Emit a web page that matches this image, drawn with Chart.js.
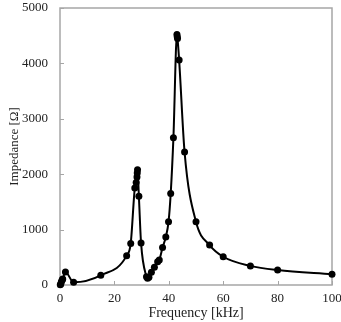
<!DOCTYPE html>
<html>
<head>
<meta charset="utf-8">
<script src="https://cdn.jsdelivr.net/npm/chart.js@4/dist/chart.umd.min.js"></script>
<style>
  html, body { margin: 0; padding: 0; background: #fff; }
  #wrap { width: 341px; height: 322px; position: relative; }
</style>
</head>
<body>
<div id="wrap"><canvas id="chart"></canvas></div>
<script>
// ── data ──
const freqKHz = [
  0.1, 0.3, 0.5, 0.8, 1.0, 2.0, 5.0, 15, 24.5, 26,
  27.5, 28.0, 28.3, 28.4, 28.5, 29.0, 29.8, 31.8, 32.2, 32.7,
  33.6, 34.7, 35.9, 36.5, 37.7, 38.9, 39.9, 40.7, 41.7, 43.0,
  43.1, 43.2, 43.8, 45.8, 50, 55, 60, 70, 80, 100,
];
const impedance = [
  5, 20, 60, 90, 110, 235, 50, 175, 530, 750,
  1750, 1850, 1950, 2020, 2080, 1600, 760, 150, 120, 140,
  230, 320, 420, 450, 675, 865, 1140, 1650, 2660, 4520,
  4480, 4450, 4060, 2400, 1140, 720, 510, 345, 270, 195,
];
const xTicks = [0, 20, 40, 60, 80, 100];
const yTicks = [0, 1000, 2000, 3000, 4000, 5000];

const FONT = "'Liberation Serif', 'Times New Roman', serif";
const FRAME = "#a6a6a6";

// frame + inward tick marks, like the spreadsheet original
const framePlugin = {
  id: "frame",
  beforeDatasetsDraw(chart) {
    const { ctx, chartArea: a, scales } = chart;
    ctx.save();
    ctx.strokeStyle = FRAME;
    ctx.lineWidth = 1.5;
    ctx.strokeRect(a.left, a.top, a.right - a.left, a.bottom - a.top);
    ctx.lineWidth = 1;
    ctx.beginPath();
    for (const v of xTicks) {
      const px = Math.round(scales.x.getPixelForValue(v)) + 0.5;
      ctx.moveTo(px, a.bottom);
      ctx.lineTo(px, a.bottom - 4);
    }
    for (const v of yTicks) {
      const py = Math.round(scales.y.getPixelForValue(v)) + 0.5;
      ctx.moveTo(a.left, py);
      ctx.lineTo(a.left + 4, py);
    }
    ctx.stroke();
    ctx.restore();
  },
};

// keep tick labels from pushing the plot area inwards
function noEdgePadding(s) {
  s.paddingTop = 0;
  s.paddingBottom = 0;
  s.paddingLeft = 0;
  s.paddingRight = 0;
}

new Chart(document.getElementById("chart"), {
  type: "line",
  data: {
    datasets: [{
      data: freqKHz.map((f, i) => ({ x: f, y: impedance[i] })),
      borderColor: "#000",
      backgroundColor: "#000",
      borderWidth: 2,
      pointRadius: 3.5,
      pointBorderWidth: 0,
      cubicInterpolationMode: "monotone",
      clip: false,
    }],
  },
  options: {
    responsive: true,
    maintainAspectRatio: false,
    animation: false,
    events: [],
    layout: { padding: { left: 0, right: 9, top: 8, bottom: 0 } },
    plugins: { legend: { display: false }, tooltip: { enabled: false } },
    scales: {
      x: {
        type: "linear",
        min: 0,
        max: 100,
        afterBuildTicks: (s) => { s.ticks = xTicks.map((v) => ({ value: v })); },
        afterFit: (s) => { s.height = 37; noEdgePadding(s); },
        grid: { display: false, drawTicks: false },
        border: { display: false },
        ticks: { padding: 6, color: "#222", font: { family: FONT, size: 13 }, callback: (v) => String(v) },
        title: {
          display: true,
          text: "Frequency [kHz]",
          color: "#222",
          padding: 0,
          font: { family: FONT, size: 14 },
        },
      },
      y: {
        min: 0,
        max: 5000,
        afterBuildTicks: (s) => { s.ticks = yTicks.map((v) => ({ value: v })); },
        afterFit: (s) => { s.width = 60; noEdgePadding(s); },
        grid: { display: false, drawTicks: false },
        border: { display: false },
        ticks: { padding: 12, color: "#222", font: { family: FONT, size: 13 }, callback: (v) => String(v) },
        title: {
          display: true,
          text: "Impedance [Ω]",
          color: "#222",
          padding: { top: 7, bottom: 0 },
          font: { family: FONT, size: 13 },
        },
      },
    },
  },
  plugins: [framePlugin],
});
</script>
</body>
</html>
